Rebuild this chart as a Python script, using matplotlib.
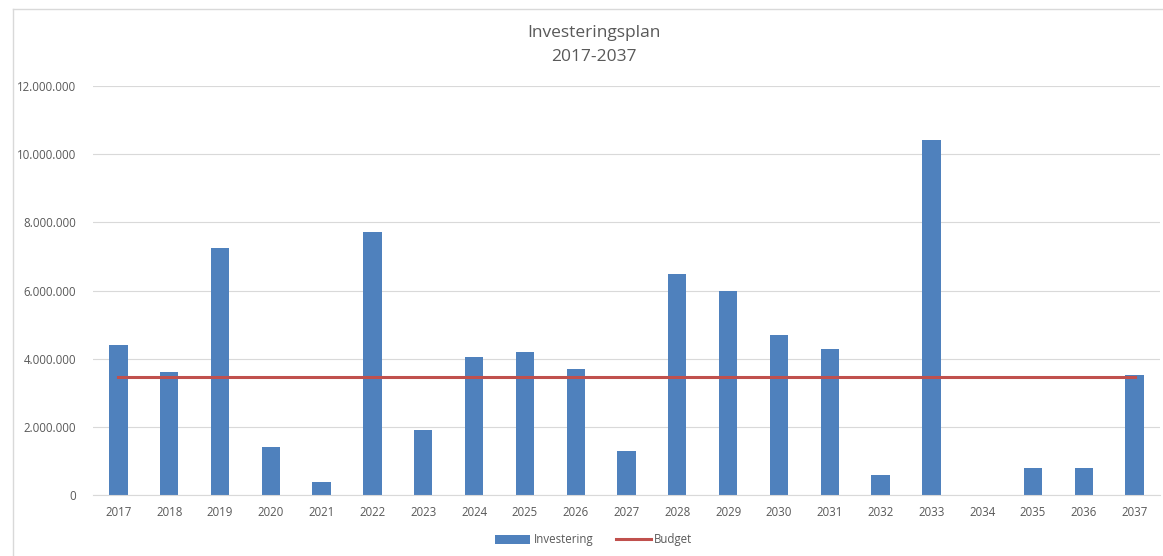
import matplotlib
matplotlib.use('Agg')
import matplotlib.pyplot as plt
from matplotlib.lines import Line2D
from matplotlib.ticker import FuncFormatter

years = [str(y) for y in range(2017, 2038)]
investering = [4400000, 3610000, 7250000, 1410000, 380000, 7720000, 1910000,
               4050000, 4190000, 3700000, 1290000, 6480000, 5980000, 4690000,
               4280000, 590000, 10410000, 0, 790000, 790000, 3530000]
budget = [3460000] * len(years)

plt.rcParams['font.family'] = ['Open Sans', 'DejaVu Sans']
text_col = '#595959'

fig = plt.figure(figsize=(11.63, 5.56), dpi=100)
ax = fig.add_axes([93 / 1163, 1 - 495 / 556, (1160 - 93) / 1163, (495 - 86) / 556])

x = list(range(len(years)))
bars = ax.bar(x, investering, width=0.36, color='#4f81bd', zorder=2, label='Investering')
line, = ax.plot(x, budget, color='#c0504d', linewidth=2.2, zorder=3, label='Budget')

ax.set_xlim(-0.5, len(years) - 0.5)
ax.set_ylim(0, 12000000)
ax.set_yticks(range(0, 12000001, 2000000))
ax.yaxis.set_major_formatter(FuncFormatter(lambda v, p: f'{int(v):,}'.replace(',', '.')))
ax.set_xticks(x)
ax.set_xticklabels(years)
ax.grid(axis='y', color='#d9d9d9', linewidth=0.8, zorder=0)
for s in ['top', 'right', 'left']:
    ax.spines[s].set_visible(False)
ax.spines['bottom'].set_color('#d9d9d9')
ax.tick_params(axis='both', length=0, labelsize=8.3, colors=text_col)
ax.tick_params(axis='y', pad=12)
ax.tick_params(axis='x', pad=8)

fig.text(594 / 1163, 1 - 33 / 556, 'Investeringsplan', ha='center', va='center',
         fontsize=12.5, color=text_col)
fig.text(594 / 1163, 1 - 57 / 556, '2017-2037', ha='center', va='center',
         fontsize=12.5, color=text_col)

leg = fig.legend([bars, line], ['Investering', 'Budget'], loc='center',
                 bbox_to_anchor=(594 / 1163, 1 - 540 / 556), ncol=2,
                 frameon=False, fontsize=8.3, handlelength=3.0, handletextpad=0.3,
                 columnspacing=2.0)
for t in leg.get_texts():
    t.set_color(text_col)

# outer chart border
fig.add_artist(Line2D([13 / 1163, 13 / 1163], [0, 1 - 9 / 556], color='#d9d9d9', linewidth=1))
fig.add_artist(Line2D([13 / 1163, 1], [1 - 9 / 556, 1 - 9 / 556], color='#d9d9d9', linewidth=1))

fig.savefig('out.png', dpi=100)
